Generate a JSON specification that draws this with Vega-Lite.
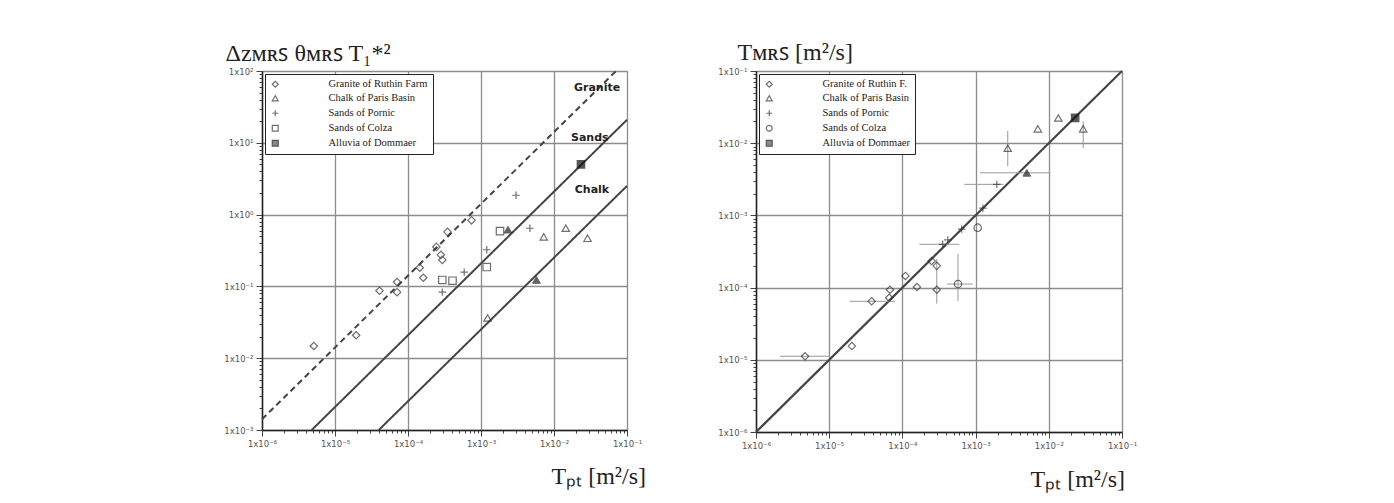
{
  "$schema": "https://vega.github.io/schema/vega-lite/v6.json",
  "background": "white",
  "padding": {"left": 223, "top": 39, "right": 5, "bottom": 5},
  "spacing": 70,
  "resolve": {"scale": {"shape": "independent", "fill": "independent", "stroke": "independent", "strokeDash": "independent"}, "legend": {"shape": "independent", "fill": "independent", "stroke": "independent"}},
  "config": {
    "view": {"stroke": "#aaa"},
    "axis": {"domainColor": "#222", "domainWidth": 1.5, "gridColor": "#8c8c8c", "gridWidth": 1.3, "tickColor": "#444", "labelFont": "DejaVu Sans", "labelFontSize": 8.5, "labelColor": "#555", "labelPadding": 3, "labelOverlap": false, "labelFlush": false, "titleFont": "Liberation Serif", "titleFontSize": 24, "titleFontWeight": "normal", "titleColor": "#222"},
    "legend": {"title": null, "orient": "top-left", "offset": 3, "strokeColor": "#222", "fillColor": "white", "padding": 5, "symbolSize": 35, "symbolStrokeWidth": 1.2, "rowPadding": 3, "labelLimit": 200, "labelOffset": 48, "labelFont": "Liberation Serif", "labelFontSize": 10.5, "labelColor": "#222"}
  },
  "datasets": {
    "leftPts": [
      {"series": "Granite of Ruthin Farm", "x": 5.13e-6, "y": 0.0148, "solid": false},
      {"series": "Granite of Ruthin Farm", "x": 1.95e-5, "y": 0.0209, "solid": false},
      {"series": "Granite of Ruthin Farm", "x": 4.07e-5, "y": 0.0871, "solid": false},
      {"series": "Granite of Ruthin Farm", "x": 7.08e-5, "y": 0.115, "solid": false},
      {"series": "Granite of Ruthin Farm", "x": 7.08e-5, "y": 0.0832, "solid": false},
      {"series": "Granite of Ruthin Farm", "x": 1.45e-4, "y": 0.182, "solid": false},
      {"series": "Granite of Ruthin Farm", "x": 1.62e-4, "y": 0.132, "solid": false},
      {"series": "Granite of Ruthin Farm", "x": 2.45e-4, "y": 0.355, "solid": false},
      {"series": "Granite of Ruthin Farm", "x": 2.82e-4, "y": 0.275, "solid": false},
      {"series": "Granite of Ruthin Farm", "x": 2.95e-4, "y": 0.234, "solid": false},
      {"series": "Granite of Ruthin Farm", "x": 3.47e-4, "y": 0.575, "solid": false},
      {"series": "Granite of Ruthin Farm", "x": 7.41e-4, "y": 0.832, "solid": false},
      {"series": "Chalk of Paris Basin", "x": 7.24e-3, "y": 0.49, "solid": false},
      {"series": "Chalk of Paris Basin", "x": 0.0145, "y": 0.646, "solid": false},
      {"series": "Chalk of Paris Basin", "x": 0.0288, "y": 0.468, "solid": false},
      {"series": "Chalk of Paris Basin", "x": 1.23e-3, "y": 0.0363, "solid": false},
      {"series": "Chalk of Paris Basin", "x": 5.75e-3, "y": 0.123, "solid": true},
      {"series": "Chalk of Paris Basin", "x": 2.34e-3, "y": 0.617, "solid": true},
      {"series": "Sands of Pornic", "x": 2.95e-4, "y": 0.0832, "solid": false},
      {"series": "Sands of Pornic", "x": 5.89e-4, "y": 0.158, "solid": false},
      {"series": "Sands of Pornic", "x": 1.2e-3, "y": 0.324, "solid": false},
      {"series": "Sands of Pornic", "x": 3.02e-3, "y": 1.86, "solid": false},
      {"series": "Sands of Pornic", "x": 4.68e-3, "y": 0.646, "solid": false},
      {"series": "Sands of Colza", "x": 2.95e-4, "y": 0.123, "solid": false},
      {"series": "Sands of Colza", "x": 4.07e-4, "y": 0.12, "solid": false},
      {"series": "Sands of Colza", "x": 1.2e-3, "y": 0.186, "solid": false},
      {"series": "Sands of Colza", "x": 1.82e-3, "y": 0.589, "solid": false},
      {"series": "Alluvia of Dommaer", "x": 0.0234, "y": 5.01, "solid": false}
    ],
    "leftLines": [
      {"line": "Granite", "x": 1e-6, "y": 1.41e-3},
      {"line": "Granite", "x": 0.0708, "y": 100},
      {"line": "Sands", "x": 4.79e-6, "y": 1e-3},
      {"line": "Sands", "x": 0.1, "y": 20.9},
      {"line": "Chalk", "x": 3.98e-5, "y": 1e-3},
      {"line": "Chalk", "x": 0.1, "y": 2.51}
    ],
    "leftLabels": [
      {"label": "Granite", "x": 0.0389, "y": 57.5},
      {"label": "Sands", "x": 0.0309, "y": 11.7},
      {"label": "Chalk", "x": 0.0331, "y": 2.19}
    ],
    "rightPts": [
      {"series": "Granite of Ruthin F.", "x": 4.68e-6, "y": 1.12e-5, "solid": false, "xlo": 2.14e-6, "xhi": 1.02e-5},
      {"series": "Granite of Ruthin F.", "x": 2.04e-5, "y": 1.55e-5, "solid": false},
      {"series": "Granite of Ruthin F.", "x": 3.8e-5, "y": 6.46e-5, "solid": false, "xlo": 1.9e-5, "xhi": 7.9e-5},
      {"series": "Granite of Ruthin F.", "x": 6.61e-5, "y": 7.24e-5, "solid": false},
      {"series": "Granite of Ruthin F.", "x": 6.76e-5, "y": 9.33e-5, "solid": false},
      {"series": "Granite of Ruthin F.", "x": 1.1e-4, "y": 1.45e-4, "solid": false},
      {"series": "Granite of Ruthin F.", "x": 1.58e-4, "y": 1.02e-4, "solid": false},
      {"series": "Granite of Ruthin F.", "x": 2.95e-4, "y": 9.33e-5, "solid": false, "ylo": 6.0e-5, "yhi": 2.5e-4},
      {"series": "Granite of Ruthin F.", "x": 2.51e-4, "y": 2.34e-4, "solid": false},
      {"series": "Granite of Ruthin F.", "x": 2.95e-4, "y": 2.0e-4, "solid": false},
      {"series": "Sands of Colza", "x": 5.75e-4, "y": 1.12e-4, "solid": false, "xlo": 4.07e-4, "xhi": 9.1e-4, "ylo": 6.5e-5, "yhi": 2.95e-4},
      {"series": "Sands of Colza", "x": 1.07e-3, "y": 6.76e-4, "solid": false},
      {"series": "Sands of Pornic", "x": 3.55e-4, "y": 3.98e-4, "solid": false, "xlo": 1.7e-4, "xhi": 6.0e-4},
      {"series": "Sands of Pornic", "x": 4.17e-4, "y": 4.57e-4, "solid": false},
      {"series": "Sands of Pornic", "x": 6.46e-4, "y": 6.46e-4, "solid": false},
      {"series": "Sands of Pornic", "x": 1.26e-3, "y": 1.26e-3, "solid": false},
      {"series": "Sands of Pornic", "x": 1.95e-3, "y": 2.69e-3, "solid": false, "xlo": 7.0e-4, "xhi": 2.4e-3},
      {"series": "Chalk of Paris Basin", "x": 5.01e-3, "y": 3.89e-3, "solid": true, "xlo": 1.15e-3, "xhi": 0.0105},
      {"series": "Chalk of Paris Basin", "x": 2.75e-3, "y": 8.51e-3, "solid": false, "ylo": 4.79e-3, "yhi": 0.0148},
      {"series": "Chalk of Paris Basin", "x": 7.08e-3, "y": 0.0158, "solid": false},
      {"series": "Chalk of Paris Basin", "x": 0.0135, "y": 0.0224, "solid": false},
      {"series": "Chalk of Paris Basin", "x": 0.0295, "y": 0.0158, "solid": false, "ylo": 8.5e-3, "yhi": 0.02},
      {"series": "Alluvia of Dommaer", "x": 0.0229, "y": 0.0224, "solid": false}
    ],
    "rightLine": [
      {"x": 1e-6, "y": 1e-6},
      {"x": 0.1, "y": 0.1}
    ]
  },
  "hconcat": [
    {
      "width": 365,
      "height": 359,
      "layer": [
        {
          "data": {"name": "leftLines"},
          "mark": {"type": "line", "color": "#444", "strokeWidth": 2},
          "encoding": {
            "x": {"field": "x", "type": "quantitative", "scale": {"type": "log", "domain": [1e-6, 0.1], "nice": false},
              "axis": {
                "values": [1e-6,2e-6,3e-6,4e-6,5e-6,6e-6,7e-6,8e-6,9e-6,1e-5,2e-5,3e-5,4e-5,5e-5,6e-5,7e-5,8e-5,9e-5,1e-4,2e-4,3e-4,4e-4,5e-4,6e-4,7e-4,8e-4,9e-4,0.001,0.002,0.003,0.004,0.005,0.006,0.007,0.008,0.009,0.01,0.02,0.03,0.04,0.05,0.06,0.07,0.08,0.09,0.1],
                "labelExpr": "abs(log(datum.value)/LN10 - round(log(datum.value)/LN10)) < 0.01 ? '1x10' + replace(replace(replace(replace(replace(replace(replace(replace('' + round(log(datum.value)/LN10), '-', '⁻'), '0', '⁰'), '1', '¹'), '2', '²'), '3', '³'), '4', '⁴'), '5', '⁵'), '6', '⁶') : ''",
                "tickSize": {"condition": {"test": "abs(log(datum.value)/LN10 - round(log(datum.value)/LN10)) < 0.01", "value": 6}, "value": 3},
                "gridOpacity": {"condition": {"test": "abs(log(datum.value)/LN10 - round(log(datum.value)/LN10)) < 0.01", "value": 1}, "value": 0},
                "title": "Tₚₜ [m²/s]", "titleAlign": "left", "titleBaseline": "alphabetic", "titleX": 289, "titleY": 53
              }},
            "y": {"field": "y", "type": "quantitative", "scale": {"type": "log", "domain": [1e-3, 100], "nice": false},
              "axis": {
                "values": [0.001,0.002,0.003,0.004,0.005,0.006,0.007,0.008,0.009,0.01,0.02,0.03,0.04,0.05,0.06,0.07,0.08,0.09,0.1,0.2,0.3,0.4,0.5,0.6,0.7,0.8,0.9,1,2,3,4,5,6,7,8,9,10,20,30,40,50,60,70,80,90,100],
                "labelExpr": "abs(log(datum.value)/LN10 - round(log(datum.value)/LN10)) < 0.01 ? '1x10' + replace(replace(replace(replace(replace(replace(replace(replace('' + round(log(datum.value)/LN10), '-', '⁻'), '0', '⁰'), '1', '¹'), '2', '²'), '3', '³'), '4', '⁴'), '5', '⁵'), '6', '⁶') : ''",
                "tickSize": {"condition": {"test": "abs(log(datum.value)/LN10 - round(log(datum.value)/LN10)) < 0.01", "value": 6}, "value": 3},
                "gridOpacity": {"condition": {"test": "abs(log(datum.value)/LN10 - round(log(datum.value)/LN10)) < 0.01", "value": 1}, "value": 0},
                "title": "Δzᴍʀꜱ θᴍʀꜱ T₁*²", "titleAngle": 0, "titleAlign": "left", "titleBaseline": "alphabetic", "titleX": -37, "titleY": -11
              }},
            "detail": {"field": "line", "type": "nominal"},
            "strokeDash": {"field": "line", "type": "nominal", "scale": {"domain": ["Granite", "Sands", "Chalk"], "range": [[6, 4], [1, 0], [1, 0]]}, "legend": null}
          }
        },
        {
          "data": {"name": "leftLabels"},
          "mark": {"type": "text", "font": "DejaVu Sans", "fontSize": 11, "fontWeight": "bold", "color": "#222"},
          "encoding": {
            "x": {"field": "x", "type": "quantitative"},
            "y": {"field": "y", "type": "quantitative"},
            "text": {"field": "label"}
          }
        },
        {
          "data": {"name": "leftPts"},
          "transform": [{"filter": "!datum.solid"}],
          "mark": {"type": "point", "filled": true, "strokeWidth": 1.2, "size": 55},
          "encoding": {
            "x": {"field": "x", "type": "quantitative"},
            "y": {"field": "y", "type": "quantitative"},
            "shape": {"field": "series", "type": "nominal",
              "scale": {"domain": ["Granite of Ruthin Farm", "Chalk of Paris Basin", "Sands of Pornic", "Sands of Colza", "Alluvia of Dommaer"], "range": ["diamond", "triangle-up", "M-1,0H1M0,-1V1", "square", "square"]}},
            "fill": {"field": "series", "type": "nominal",
              "scale": {"domain": ["Granite of Ruthin Farm", "Chalk of Paris Basin", "Sands of Pornic", "Sands of Colza", "Alluvia of Dommaer"], "range": ["transparent", "transparent", "transparent", "transparent", "#111"]}},
            "stroke": {"field": "series", "type": "nominal",
              "scale": {"domain": ["Granite of Ruthin Farm", "Chalk of Paris Basin", "Sands of Pornic", "Sands of Colza", "Alluvia of Dommaer"], "range": ["#333", "#333", "#333", "#333", "#111"]}}
          }
        },
        {
          "data": {"name": "leftPts"},
          "transform": [{"filter": "datum.solid"}],
          "mark": {"type": "point", "filled": true, "fill": "#222", "stroke": "#222", "strokeWidth": 1, "size": 60},
          "encoding": {
            "x": {"field": "x", "type": "quantitative"},
            "y": {"field": "y", "type": "quantitative"},
            "shape": {"field": "series", "type": "nominal"}
          }
        }
      ]
    },
    {
      "width": 366,
      "height": 361,
      "layer": [
        {
          "data": {"name": "rightLine"},
          "mark": {"type": "line", "color": "#444", "strokeWidth": 2.2},
          "encoding": {
            "x": {"field": "x", "type": "quantitative", "scale": {"type": "log", "domain": [1e-6, 0.1], "nice": false},
              "axis": {
                "values": [1e-6,2e-6,3e-6,4e-6,5e-6,6e-6,7e-6,8e-6,9e-6,1e-5,2e-5,3e-5,4e-5,5e-5,6e-5,7e-5,8e-5,9e-5,1e-4,2e-4,3e-4,4e-4,5e-4,6e-4,7e-4,8e-4,9e-4,0.001,0.002,0.003,0.004,0.005,0.006,0.007,0.008,0.009,0.01,0.02,0.03,0.04,0.05,0.06,0.07,0.08,0.09,0.1],
                "labelExpr": "abs(log(datum.value)/LN10 - round(log(datum.value)/LN10)) < 0.01 ? '1x10' + replace(replace(replace(replace(replace(replace(replace(replace('' + round(log(datum.value)/LN10), '-', '⁻'), '0', '⁰'), '1', '¹'), '2', '²'), '3', '³'), '4', '⁴'), '5', '⁵'), '6', '⁶') : ''",
                "tickSize": {"condition": {"test": "abs(log(datum.value)/LN10 - round(log(datum.value)/LN10)) < 0.01", "value": 6}, "value": 3},
                "gridOpacity": {"condition": {"test": "abs(log(datum.value)/LN10 - round(log(datum.value)/LN10)) < 0.01", "value": 1}, "value": 0},
                "title": "Tₚₜ [m²/s]", "titleAlign": "left", "titleBaseline": "alphabetic", "titleX": 274, "titleY": 54
              }},
            "y": {"field": "y", "type": "quantitative", "scale": {"type": "log", "domain": [1e-6, 0.1], "nice": false},
              "axis": {
                "values": [1e-6,2e-6,3e-6,4e-6,5e-6,6e-6,7e-6,8e-6,9e-6,1e-5,2e-5,3e-5,4e-5,5e-5,6e-5,7e-5,8e-5,9e-5,1e-4,2e-4,3e-4,4e-4,5e-4,6e-4,7e-4,8e-4,9e-4,0.001,0.002,0.003,0.004,0.005,0.006,0.007,0.008,0.009,0.01,0.02,0.03,0.04,0.05,0.06,0.07,0.08,0.09,0.1],
                "labelExpr": "abs(log(datum.value)/LN10 - round(log(datum.value)/LN10)) < 0.01 ? '1x10' + replace(replace(replace(replace(replace(replace(replace(replace('' + round(log(datum.value)/LN10), '-', '⁻'), '0', '⁰'), '1', '¹'), '2', '²'), '3', '³'), '4', '⁴'), '5', '⁵'), '6', '⁶') : ''",
                "tickSize": {"condition": {"test": "abs(log(datum.value)/LN10 - round(log(datum.value)/LN10)) < 0.01", "value": 6}, "value": 3},
                "gridOpacity": {"condition": {"test": "abs(log(datum.value)/LN10 - round(log(datum.value)/LN10)) < 0.01", "value": 1}, "value": 0},
                "title": "Tᴍʀꜱ [m²/s]", "titleAngle": 0, "titleAlign": "left", "titleBaseline": "alphabetic", "titleX": -19, "titleY": -12
              }}
          }
        },
        {
          "data": {"name": "rightPts"},
          "transform": [{"filter": "isValid(datum.xlo)"}],
          "mark": {"type": "rule", "color": "#999", "strokeWidth": 1},
          "encoding": {
            "x": {"field": "xlo", "type": "quantitative"},
            "x2": {"field": "xhi"},
            "y": {"field": "y", "type": "quantitative"}
          }
        },
        {
          "data": {"name": "rightPts"},
          "transform": [{"filter": "isValid(datum.ylo)"}],
          "mark": {"type": "rule", "color": "#999", "strokeWidth": 1},
          "encoding": {
            "x": {"field": "x", "type": "quantitative"},
            "y": {"field": "ylo", "type": "quantitative"},
            "y2": {"field": "yhi"}
          }
        },
        {
          "data": {"name": "rightPts"},
          "transform": [{"filter": "!datum.solid"}],
          "mark": {"type": "point", "filled": true, "strokeWidth": 1.2, "size": 55},
          "encoding": {
            "x": {"field": "x", "type": "quantitative"},
            "y": {"field": "y", "type": "quantitative"},
            "shape": {"field": "series", "type": "nominal",
              "scale": {"domain": ["Granite of Ruthin F.", "Chalk of Paris Basin", "Sands of Pornic", "Sands of Colza", "Alluvia of Dommaer"], "range": ["diamond", "triangle-up", "M-1,0H1M0,-1V1", "circle", "square"]}},
            "fill": {"field": "series", "type": "nominal",
              "scale": {"domain": ["Granite of Ruthin F.", "Chalk of Paris Basin", "Sands of Pornic", "Sands of Colza", "Alluvia of Dommaer"], "range": ["transparent", "transparent", "transparent", "transparent", "#111"]}},
            "stroke": {"field": "series", "type": "nominal",
              "scale": {"domain": ["Granite of Ruthin F.", "Chalk of Paris Basin", "Sands of Pornic", "Sands of Colza", "Alluvia of Dommaer"], "range": ["#333", "#333", "#333", "#333", "#111"]}}
          }
        },
        {
          "data": {"name": "rightPts"},
          "transform": [{"filter": "datum.solid"}],
          "mark": {"type": "point", "filled": true, "fill": "#222", "stroke": "#222", "strokeWidth": 1, "size": 60},
          "encoding": {
            "x": {"field": "x", "type": "quantitative"},
            "y": {"field": "y", "type": "quantitative"},
            "shape": {"field": "series", "type": "nominal"}
          }
        }
      ]
    }
  ]
}
